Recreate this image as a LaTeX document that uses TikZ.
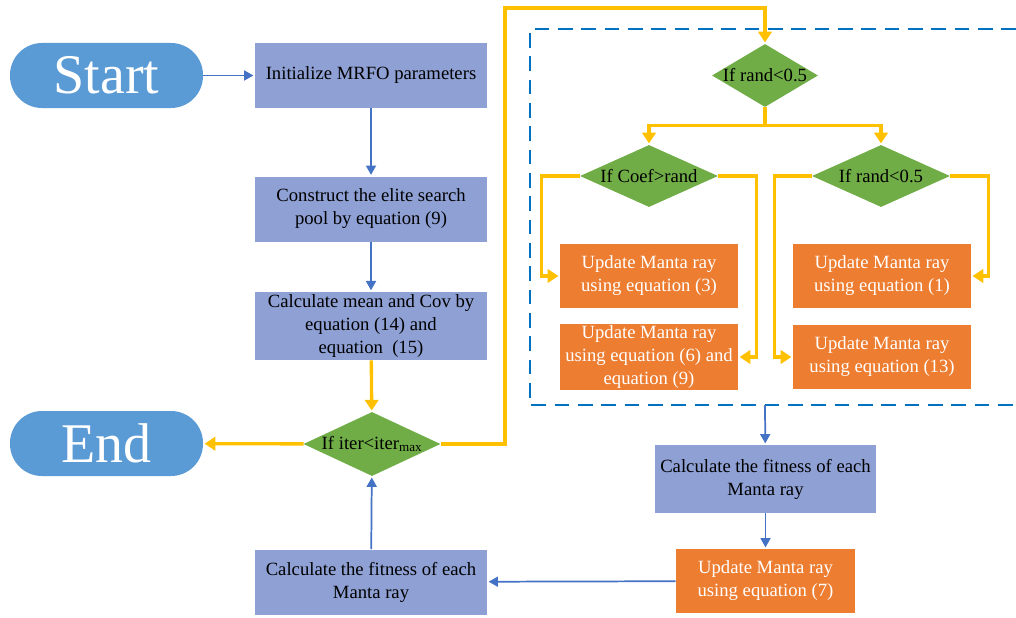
\documentclass[tikz,border=0pt]{standalone}
\usepackage{fontspec}
\setmainfont{Liberation Serif}
\usetikzlibrary{shapes,arrows.meta,positioning}
\definecolor{boxblue}{RGB}{142,160,212}
\definecolor{pillblue}{RGB}{91,155,213}
\definecolor{boxorange}{RGB}{237,125,49}
\definecolor{diagreen}{RGB}{112,173,71}
\definecolor{lineyellow}{RGB}{255,192,0}
\definecolor{lineblue}{RGB}{68,114,196}
\definecolor{dashblue}{RGB}{0,112,192}

\begin{document}
\begin{tikzpicture}[x=0.75pt, y=-0.75pt,
    every node/.append style={font=\fontsize{14}{17.25}\selectfont, align=center},
    bluebox/.style={rectangle, fill=boxblue, minimum width=174pt, minimum height=48.75pt, inner sep=2pt},
    orangebox/.style={rectangle, fill=boxorange, text=white, minimum width=133.5pt, minimum height=48pt, inner sep=1pt},
    terminal/.style={rectangle, rounded corners=24pt, fill=pillblue, text=white, minimum width=144.75pt, minimum height=48.75pt, font=\fontsize{42}{44}\selectfont},
    decision/.style={diamond, fill=diagreen, inner sep=0pt, aspect=2.2},
    yline/.style={draw=lineyellow, line width=2.5pt, shorten >=1pt, -{Triangle[width=10pt,length=8pt]}},
    bline/.style={draw=lineblue, line width=1.3pt, shorten >=1pt, -{Triangle[width=7.5pt,length=7pt]}}]
    \useasboundingbox (0,0) rectangle (1016,617);
    % left column
    \node (start) [terminal] at (106.5,75.5) {Start};
    \node (init) [bluebox] at (371,75.5) {Initialize MRFO parameters};
    \node (pool) [bluebox] at (371,209) {Construct the elite search\\pool by equation (9)};
    \node (mean) [bluebox] at (371,326) {Calculate mean and Cov by\\equation (14) and\\equation~~(15)};
    \node (iter) [decision, minimum width=102.75pt, minimum height=48pt,
      label=center:{If iter<iter\textsubscript{max}}] at (372,444) {};
    \node (end) [terminal] at (106.5,443.5) {End};
    \node (fitL) [bluebox] at (371,582) {Calculate the fitness of each\\Manta ray};
    % right part
    \draw[dashblue, line width=1.6pt, dash pattern=on 11pt off 6.5pt]
      (1016,29) -- (530,29) -- (530,405) -- (1016,405);
    \coordinate (dashbot) at (765,405);
    \node (rand1) [decision, minimum width=79.5pt, minimum height=47.25pt,
      label=center:{If rand<0.5}] at (765,75.5) {};
    \node (coef) [decision, minimum width=103.5pt, minimum height=46.5pt,
      label=center:{If Coef>rand}] at (649,176) {};
    \node (rand2) [decision, minimum width=103.5pt, minimum height=46.5pt,
      label=center:{If rand<0.5}] at (881,176) {};
    \node (up3) [orangebox] at (649,276) {Update Manta ray\\using equation (3)};
    \node (up69) [orangebox] at (649,357) {Update Manta ray\\using equation (6) and\\equation (9)};
    \node (up1) [orangebox] at (882,276) {Update Manta ray\\using equation (1)};
    \node (up13) [orangebox] at (882,357) {Update Manta ray\\using equation (13)};
    \node (fitR) [bluebox, minimum width=165.75pt, minimum height=51pt] at (765.5,479) {Calculate the fitness of each\\Manta ray};
    \node (up7) [orangebox, minimum width=134.25pt] at (765.5,581) {Update Manta ray\\using equation (7)};
    % connectors
    \draw[bline] (start) -- (init);
    \draw[bline] (init) -- (pool);
    \draw[bline] (pool) -- (mean);
    \draw[yline] (mean) -- (iter);
    \draw[yline] (iter) -- (end);
    \draw[bline] (fitL) -- (iter);
    \draw[yline] (iter.east) -| (505,8) -| (rand1.north);
    \draw[yline] (rand1.south) -- ++(0,18) -| (coef.north);
    \draw[yline] (rand1.south) -- ++(0,18) -| (rand2.north);
    \draw[yline] (coef.west) -- ++(-38,0) |- (up3.west);
    \draw[yline] (coef.east) -- ++(38,0) |- (up69.east);
    \draw[yline] (rand2.west) -- ++(-37,0) |- (up13.west);
    \draw[yline] (rand2.east) -- ++(38,0) |- (up1.east);
    \draw[bline] (dashbot) -- (fitR);
    \draw[bline] (fitR) -- (up7);
    \draw[bline] (up7) -- (fitL);
\end{tikzpicture}
\end{document}
